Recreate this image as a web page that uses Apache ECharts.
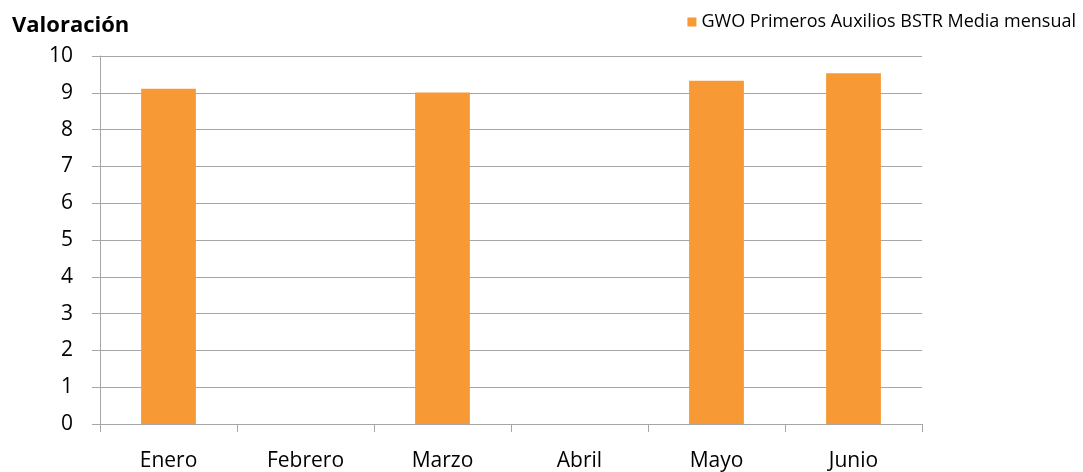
<!DOCTYPE html>
<html>
<head>
<meta charset="utf-8">
<script src="https://cdn.jsdelivr.net/npm/echarts@6/dist/echarts.min.js"></script>
<style>
html,body{margin:0;padding:0;background:#fff;}
#chart{width:1083px;height:472px;}
</style>
</head>
<body>
<div id="chart"></div>
<script>
const categories = ['Enero', 'Febrero', 'Marzo', 'Abril', 'Mayo', 'Junio'];
const values = [9.11, null, 9.01, null, 9.33, 9.53];
const seriesName = 'GWO Primeros Auxilios BSTR Media mensual';
const yTitle = 'Valoración';

const FONT = '"Open Sans", sans-serif';
const chart = echarts.init(document.getElementById('chart'));
chart.setOption({
  animation: false,
  textStyle: { fontFamily: FONT },
  title: {
    text: yTitle,
    left: 7, top: 10,
    textStyle: { fontSize: 22, fontWeight: 'bold', color: '#000', fontFamily: FONT }
  },
  legend: {
    data: [seriesName],
    right: 2, top: 8,
    itemWidth: 9, itemHeight: 9, itemGap: 4,
    icon: 'rect',
    textStyle: { fontSize: 18, color: '#000', fontFamily: FONT, padding: [0,0,0,0] }
  },
  grid: { left: 100, right: 161, top: 56, bottom: 48, containLabel: false },
  xAxis: {
    type: 'category',
    data: categories,
    axisLine: { lineStyle: { color: '#a6a6a6' } },
    axisTick: { show: true, length: 8, lineStyle: { color: '#a6a6a6' } },
    axisLabel: { fontSize: 21, color: '#000', margin: 27, fontFamily: FONT }
  },
  yAxis: {
    type: 'value',
    min: 0, max: 10, interval: 1,
    axisLine: { show: true, lineStyle: { color: '#a6a6a6' } },
    axisTick: { show: true, length: 8, lineStyle: { color: '#a6a6a6' } },
    splitLine: { lineStyle: { color: '#a6a6a6', width: 1 } },
    axisLabel: { fontSize: 21, color: '#000', margin: 27, fontFamily: FONT }
  },
  series: [{
    name: seriesName,
    type: 'bar',
    data: values,
    barWidth: '40%',
    itemStyle: { color: '#f79a36' }
  }]
});
</script>
</body>
</html>
